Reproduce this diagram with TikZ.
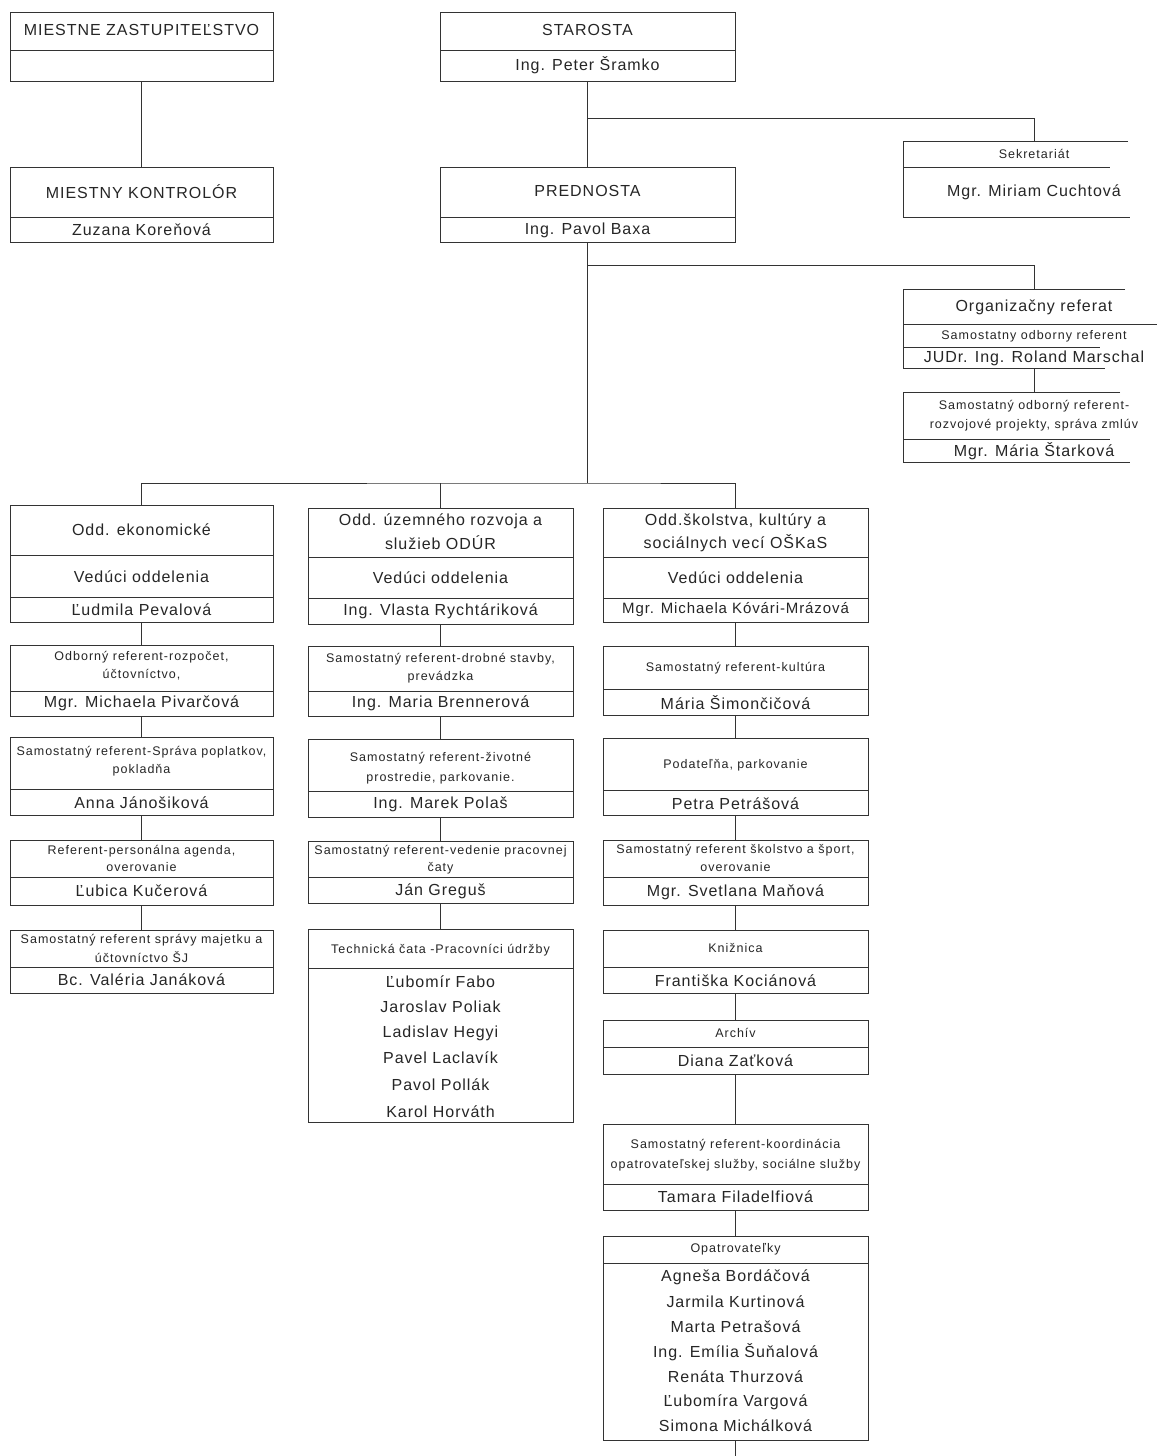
\documentclass[tikz,border=0pt]{standalone}
\usepackage{fontspec}
\setmainfont{Liberation Sans}
\newfontfamily\lgfont{Liberation Sans}[LetterSpace=6]
\newfontfamily\smfont{Liberation Sans}[LetterSpace=8]
\newcommand\obx[6][obox]{\node[#1, anchor=north west, minimum width={(#4-#3)*1pt}, minimum height={(#6-#5)*1pt}] (#2) at (#3,#5) {};}
\newcommand\dv[2]{\draw[ln] (#1.west |- 0,#2) -- (#1.east |- 0,#2);}
\newcommand\tx[5][lg]{\node[#1] (#2) at (#3,#4) {#5};}
\tikzset{
  ln/.style={line width=0.7pt, draw=black!80},
  obox/.style={ln, rectangle, inner sep=0pt, outer sep=0pt},
  ghost/.style={rectangle, inner sep=0pt, outer sep=0pt, draw=none},
  lg/.style={font=\lgfont\fontsize{16}{18}\selectfont, text=black!85, inner sep=0pt},
  lgs/.style={font=\lgfont\fontsize{15}{18}\selectfont, text=black!85, inner sep=0pt},
  sm/.style={font=\smfont\fontsize{12.5}{15}\selectfont, text=black!85, inner sep=0pt},
}
\begin{document}
\begin{tikzpicture}[x=1pt, y=-1pt]
\fill[white] (0,0) rectangle (1157,1456);
\useasboundingbox (0,0) rectangle (1157,1456);

% ---------- top left ----------
\obx{mz}{10}{273}{12}{81}\dv{mz}{50}
\tx{mzt}{141.5}{30}{MIESTNE ZASTUPITEĽSTVO}
\obx{mk}{10}{273}{167}{242}\dv{mk}{217}
\tx{mkt}{141.5}{192}{MIESTNY KONTROLÓR}
\tx{mkn}{141.5}{230}{Zuzana Koreňová}
\draw[ln] (mz.south) -- (mk.north);

% ---------- top centre ----------
\obx{st}{440}{735}{12}{81}\dv{st}{50}
\tx{stt}{587.5}{30}{STAROSTA}
\tx{stn}{587.5}{65}{Ing. Peter Šramko}
\obx{pr}{440}{735}{167}{242}\dv{pr}{217}
\tx{prt}{587.5}{191}{PREDNOSTA}
\tx{prn}{587.5}{230}{Ing. Pavol Baxa}
\draw[ln] (st.south) -- (pr.north);

% ---------- Sekretariat ----------
\obx[ghost]{sek}{903}{1165}{141}{217}
\draw[ln] ([xshift=-37pt]sek.north east) -- (sek.north west) -- (sek.south west) -- ([xshift=-35pt]sek.south east);
\draw[ln] (sek.west |- 0,167) -- (1110,167);
\tx[sm]{sekt}{1034}{154}{Sekretariát}
\tx{sekn}{1034}{192}{Mgr. Miriam Cuchtová}
\coordinate (j1) at (587.5,118);
\draw[ln] (j1) -| (sek.north);

% ---------- Organizacny referat ----------
\obx[ghost]{org}{903}{1165}{289}{368}
\draw[ln] ([xshift=-40pt]org.north east) -- (org.north west) -- (org.south west) -- ([xshift=-60pt]org.south east);
\draw[ln] (org.west |- 0,324) -- (1157,324);
\draw[ln] (org.west |- 0,347) -- (1100,347);
\tx{orgt}{1034}{307}{Organizačny referat}
\tx[sm]{orgs}{1034}{336}{Samostatny odborny referent}
\tx{orgn}{1034}{358}{JUDr. Ing. Roland Marschal}
\obx[ghost]{orb}{903}{1165}{392}{462}
\draw[ln] ([xshift=-45pt]orb.north east) -- (orb.north west) -- (orb.south west) -- ([xshift=-35pt]orb.south east);
\draw[ln] (orb.west |- 0,439) -- (1110,439);
\tx[sm]{orbs1}{1034}{406}{Samostatný odborný referent-}
\tx[sm]{orbs2}{1034}{425}{rozvojové projekty, správa zmlúv}
\tx{orbn}{1034}{451}{Mgr. Mária Štarková}
\draw[ln] (org.south) -- (orb.north);
\coordinate (j2) at (587.5,265);
\draw[ln] (j2) -| (org.north);

% ---------- bus ----------
\coordinate (bus) at (587.5,483);
\draw[ln] (pr.south) -- (bus);

% ---------- column 1 ----------
\obx{a1}{10}{273}{505}{622}\dv{a1}{555}\dv{a1}{597}
\tx{a1t}{141.5}{530}{Odd. ekonomické}
\tx{a1v}{141.5}{577}{Vedúci oddelenia}
\tx{a1n}{141.5}{610}{Ľudmila Pevalová}
\obx{a2}{10}{273}{645}{716}\dv{a2}{691}
\tx[sm]{a2s1}{141.5}{657}{Odborný referent-rozpočet,}
\tx[sm]{a2s2}{141.5}{675}{účtovníctvo,}
\tx{a2n}{141.5}{703}{Mgr. Michaela Pivarčová}
\obx{a3}{10}{273}{737}{815}\dv{a3}{789}
\tx[sm]{a3s1}{141.5}{752}{Samostatný referent-Správa poplatkov,}
\tx[sm]{a3s2}{141.5}{770}{pokladňa}
\tx{a3n}{141.5}{803}{Anna Jánošiková}
\obx{a4}{10}{273}{840}{905}\dv{a4}{877}
\tx[sm]{a4s1}{141.5}{851}{Referent-personálna agenda,}
\tx[sm]{a4s2}{141.5}{867}{overovanie}
\tx{a4n}{141.5}{891}{Ľubica Kučerová}
\obx{a5}{10}{273}{930}{993}\dv{a5}{967}
\tx[sm]{a5s1}{141.5}{940}{Samostatný referent správy majetku a}
\tx[sm]{a5s2}{141.5}{957}{účtovníctvo ŠJ}
\tx{a5n}{141.5}{980}{Bc. Valéria Janáková}
\draw[ln] (a1.south) -- (a2.north);
\draw[ln] (a2.south) -- (a3.north);
\draw[ln] (a3.south) -- (a4.north);
\draw[ln] (a4.south) -- (a5.north);

% ---------- column 2 ----------
\obx{b1}{308}{573}{508}{624}\dv{b1}{557}\dv{b1}{598}
\tx{b1t1}{440.5}{521}{Odd. územného rozvoja a}
\tx{b1t2}{440.5}{543}{služieb ODÚR}
\tx{b1v}{440.5}{578}{Vedúci oddelenia}
\tx{b1n}{440.5}{611}{Ing. Vlasta Rychtáriková}
\obx{b2}{308}{573}{646}{716}\dv{b2}{691}
\tx[sm]{b2s1}{440.5}{659}{Samostatný referent-drobné stavby,}
\tx[sm]{b2s2}{440.5}{677}{prevádzka}
\tx{b2n}{440.5}{703}{Ing. Maria Brennerová}
\obx{b3}{308}{573}{739}{817}\dv{b3}{791}
\tx[sm]{b3s1}{440.5}{758}{Samostatný referent-životné}
\tx[sm]{b3s2}{440.5}{778}{prostredie, parkovanie.}
\tx{b3n}{440.5}{804}{Ing. Marek Polaš}
\obx{b4}{308}{573}{841}{903}\dv{b4}{877}
\tx[sm]{b4s1}{440.5}{851}{Samostatný referent-vedenie pracovnej}
\tx[sm]{b4s2}{440.5}{868}{čaty}
\tx{b4n}{440.5}{891}{Ján Greguš}
\obx{b5}{308}{573}{929}{1122}\dv{b5}{968}
\tx[sm]{b5s}{440.5}{950}{Technická čata -Pracovníci údržby}
\tx{b5n1}{440.5}{982}{Ľubomír Fabo}
\tx{b5n2}{440.5}{1007}{Jaroslav Poliak}
\tx{b5n3}{440.5}{1033}{Ladislav Hegyi}
\tx{b5n4}{440.5}{1058}{Pavel Laclavík}
\tx{b5n5}{440.5}{1085}{Pavol Pollák}
\tx{b5n6}{440.5}{1112}{Karol Horváth}
\draw[ln] (b1.south) -- (b2.north);
\draw[ln] (b2.south) -- (b3.north);
\draw[ln] (b3.south) -- (b4.north);
\draw[ln] (b4.south) -- (b5.north);

% ---------- column 3 ----------
\obx{c1}{603}{868}{508}{622}\dv{c1}{557}\dv{c1}{598}
\tx{c1t1}{735.5}{521}{Odd.školstva, kultúry a}
\tx{c1t2}{735.5}{543}{sociálnych vecí OŠKaS}
\tx{c1v}{735.5}{578}{Vedúci oddelenia}
\tx[lgs]{c1n}{735.5}{610}{Mgr. Michaela Kóvári-Mrázová}
\obx{c2}{603}{868}{646}{715}\dv{c2}{689}
\tx[sm]{c2s}{735.5}{668}{Samostatný referent-kultúra}
\tx{c2n}{735.5}{703}{Mária Šimončičová}
\obx{c3}{603}{868}{738}{815}\dv{c3}{790}
\tx[sm]{c3s}{735.5}{765}{Podateľňa, parkovanie}
\tx{c3n}{735.5}{804}{Petra Petrášová}
\obx{c4}{603}{868}{840}{905}\dv{c4}{877}
\tx[sm]{c4s1}{735.5}{850}{Samostatný referent školstvo a šport,}
\tx[sm]{c4s2}{735.5}{867}{overovanie}
\tx{c4n}{735.5}{892}{Mgr. Svetlana Maňová}
\obx{c5}{603}{868}{930}{993}\dv{c5}{967}
\tx[sm]{c5s}{735.5}{948}{Knižnica}
\tx{c5n}{735.5}{981}{Františka Kociánová}
\obx{c6}{603}{868}{1020}{1074}\dv{c6}{1047}
\tx[sm]{c6s}{735.5}{1033}{Archív}
\tx{c6n}{735.5}{1061}{Diana Zaťková}
\obx{c7}{603}{868}{1124}{1210}\dv{c7}{1184}
\tx[sm]{c7s1}{735.5}{1145}{Samostatný referent-koordinácia}
\tx[sm]{c7s2}{735.5}{1165}{opatrovateľskej služby, sociálne služby}
\tx{c7n}{735.5}{1197}{Tamara Filadelfiová}
\obx{c8}{603}{868}{1236}{1440}\dv{c8}{1263}
\tx[sm]{c8s}{735.5}{1249}{Opatrovateľky}
\tx{c8n1}{735.5}{1277}{Agneša Bordáčová}
\tx{c8n2}{735.5}{1302}{Jarmila Kurtinová}
\tx{c8n3}{735.5}{1327}{Marta Petrašová}
\tx{c8n4}{735.5}{1352}{Ing. Emília Šuňalová}
\tx{c8n5}{735.5}{1377}{Renáta Thurzová}
\tx{c8n6}{735.5}{1402}{Ľubomíra Vargová}
\tx{c8n7}{735.5}{1426}{Simona Michálková}
\draw[ln] (c1.south) -- (c2.north);
\draw[ln] (c2.south) -- (c3.north);
\draw[ln] (c3.south) -- (c4.north);
\draw[ln] (c4.south) -- (c5.north);
\draw[ln] (c5.south) -- (c6.north);
\draw[ln] (c6.south) -- (c7.north);
\draw[ln] (c7.south) -- (c8.north);
\coordinate (c8end) at (735.5,1456);
\draw[ln] (c8.south) -- (c8end);

% ---------- bus to columns ----------
\draw[ln] (a1.north) |- (bus) -| (c1.north);
\draw[ln] (b1.north) -- (b1.north |- bus);
\end{tikzpicture}
\end{document}
